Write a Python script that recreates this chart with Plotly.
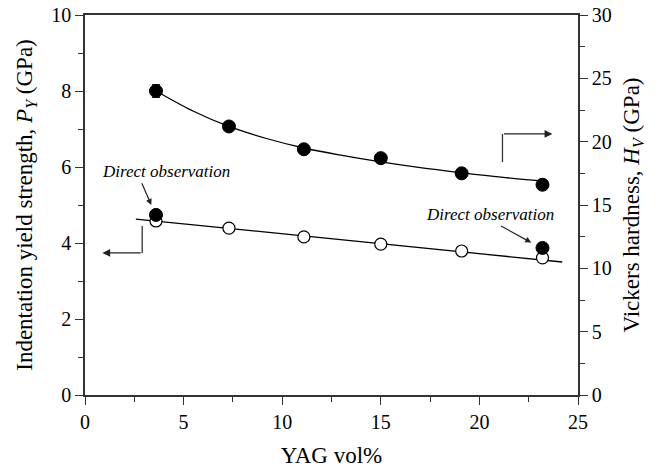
import plotly.graph_objects as go

# ---- data ----
yag = [3.6, 7.3, 11.1, 15.0, 19.1, 23.2]                 # YAG vol%
hardness = [24.0, 21.2, 19.4, 18.7, 17.5, 16.6]         # Vickers hardness Hv (GPa), right axis
hardness_err = [0.5, 0.3, 0.3, 0.3, 0.3, 0.3]
yield_strength = [4.58, 4.39, 4.16, 3.97, 3.79, 3.61]   # Indentation yield strength Py (GPa), left axis
direct_x = [3.6, 23.2]                                   # direct observation points
direct_py = [4.74, 3.87]
fit_h_x = [3.6, 5.5, 7.3, 9.2, 11.1, 12.9, 15.0, 17.0, 19.1, 21.1, 23.2]
fit_h_y = [24.0, 22.4, 21.2, 20.25, 19.5, 18.95, 18.4, 17.95, 17.55, 17.2, 16.9]
fit_py_x = [2.58, 24.2]
fit_py_y = [4.63, 3.50]

FONT = "Times New Roman, Liberation Serif, serif"
fig = go.Figure()

# fitted lines
fig.add_trace(go.Scatter(x=fit_h_x, y=fit_h_y, yaxis="y2", mode="lines",
                         line=dict(color="black", width=1.3, shape="spline"),
                         showlegend=False, hoverinfo="skip"))
fig.add_trace(go.Scatter(x=fit_py_x, y=fit_py_y, mode="lines",
                         line=dict(color="black", width=1.3),
                         showlegend=False, hoverinfo="skip"))
# open circles: yield strength
fig.add_trace(go.Scatter(x=yag, y=yield_strength, mode="markers",
                         marker=dict(size=12, color="white", line=dict(color="black", width=1.2)),
                         showlegend=False))
# direct observation (filled, left axis)
fig.add_trace(go.Scatter(x=direct_x, y=direct_py, mode="markers",
                         marker=dict(size=13, color="black", line=dict(color="black", width=1)),
                         showlegend=False))
# filled circles: hardness
fig.add_trace(go.Scatter(x=yag, y=hardness, yaxis="y2", mode="markers",
                         error_y=dict(type="data", array=hardness_err, color="black",
                                      thickness=1, width=4),
                         marker=dict(size=13, color="black", line=dict(color="black", width=1)),
                         showlegend=False))

tick_font = dict(family="Times New Roman", size=20, color="black")
axis_common = dict(showgrid=False, zeroline=False, showline=True, linecolor="#333",
                   linewidth=1.5, ticks="outside", ticklen=8, tickwidth=1.2, tickcolor="#333",
                   automargin=False)

fig.update_layout(
    width=663, height=468,
    margin=dict(l=85, r=85, t=15, b=73),
    paper_bgcolor="white", plot_bgcolor="white",
    font=dict(family=FONT, color="black", size=20),
    xaxis=dict(range=[0, 25], tickvals=[0, 5, 10, 15, 20, 25], mirror=True,
               ticktext=["0", "5", "10", "15", "20", "25"], tickfont=tick_font,
               minor=dict(dtick=2.5, ticks="outside", ticklen=5, tickcolor="#333"),
               title=dict(text="YAG vol%", font=dict(family=FONT, size=23), standoff=16),
               **axis_common),
    yaxis=dict(range=[0, 10], tickvals=[0, 2, 4, 6, 8, 10], tickfont=tick_font,
               ticktext=["0", "2", "4", "6", "8", "10"],
               minor=dict(dtick=1, ticks="outside", ticklen=5, tickcolor="#333"),
               title=dict(text="Indentation yield strength, <i>P</i><sub><i>Y</i></sub> (GPa)",
                          font=dict(family=FONT, size=23), standoff=12),
               **axis_common),
    yaxis2=dict(range=[0, 30], tickvals=[0, 5, 10, 15, 20, 25, 30], overlaying="y", side="right",
                ticktext=["0", "5", "10", "15", "20", "25", "30"], tickfont=tick_font,
                minor=dict(dtick=2.5, ticks="outside", ticklen=5, tickcolor="#333"),
                title=dict(text="Vickers hardness, <i>H</i><sub><i>V</i></sub> (GPa)",
                           font=dict(family=FONT, size=23), standoff=12),
                **axis_common),
)

# bent arrows indicating axes
fig.add_shape(type="line", x0=2.9, x1=2.9, y0=4.45, y1=3.74, xref="x", yref="y",
              line=dict(color="#333", width=1.3))
fig.add_annotation(x=0.88, y=3.74, ax=2.9, ay=3.74, xref="x", yref="y", axref="x", ayref="y",
                   text="", showarrow=True, arrowhead=2, arrowsize=1.2, arrowwidth=1.3, arrowcolor="#222")
fig.add_shape(type="line", x0=21.17, x1=21.17, y0=6.13, y1=6.87, xref="x", yref="y",
              line=dict(color="#333", width=1.3))
fig.add_annotation(x=23.7, y=6.87, ax=21.17, ay=6.87, xref="x", yref="y", axref="x", ayref="y",
                   text="", showarrow=True, arrowhead=2, arrowsize=1.2, arrowwidth=1.3, arrowcolor="#222")

# "Direct observation" labels
fig.add_annotation(x=4.1, y=5.88, xref="x", yref="y", text="<i>Direct observation</i>",
                   showarrow=False, font=dict(family=FONT, size=17))
fig.add_annotation(x=20.55, y=4.76, xref="x", yref="y", text="<i>Direct observation</i>",
                   showarrow=False, font=dict(family=FONT, size=17))
fig.add_annotation(x=3.36, y=5.0, ax=2.85, ay=5.61, xref="x", yref="y", axref="x", ayref="y",
                   text="", showarrow=True, arrowhead=2, arrowsize=1, arrowwidth=1.2, arrowcolor="#222")
fig.add_annotation(x=22.63, y=4.01, ax=21.02, ay=4.47, xref="x", yref="y", axref="x", ayref="y",
                   text="", showarrow=True, arrowhead=2, arrowsize=1, arrowwidth=1.2, arrowcolor="#222")

fig.write_html("out.html")
